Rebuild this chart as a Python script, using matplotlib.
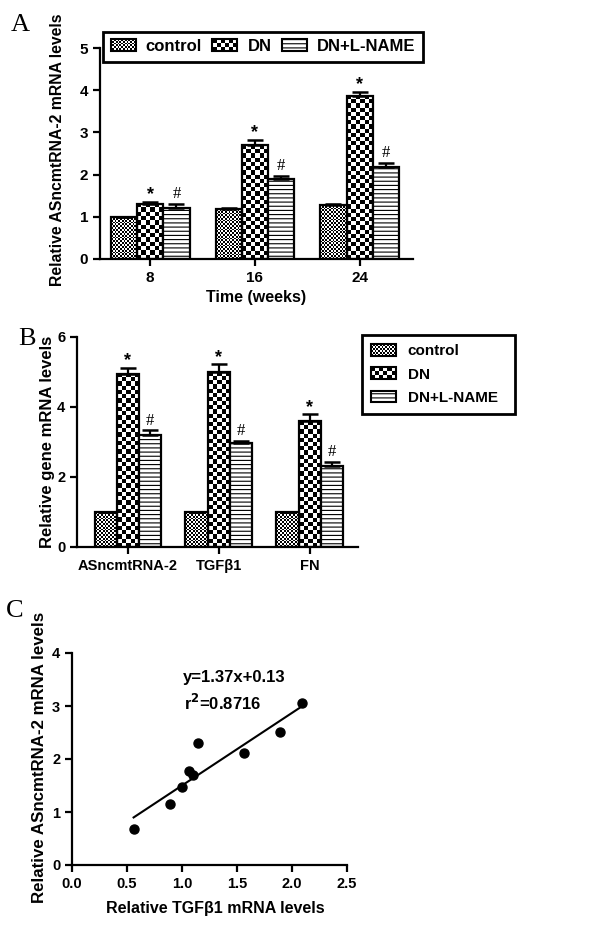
import numpy as np
import matplotlib
matplotlib.use('Agg')
from matplotlib import pyplot as plt
from matplotlib.patches import Rectangle, Patch
from matplotlib.legend_handler import HandlerBase

plt.rcParams['font.family'] = ['Liberation Sans', 'DejaVu Sans']
plt.rcParams['font.weight'] = 'bold'
plt.rcParams['axes.labelweight'] = 'bold'
plt.rcParams['hatch.linewidth'] = 0.8

# panel A data
weeks = ['8', '16', '24']
a_ctrl = [1.00, 1.18, 1.29]
a_ctrl_err = [0.00, 0.03, 0.02]
a_dn = [1.31, 2.69, 3.87]
a_dn_err = [0.05, 0.14, 0.09]
a_lname = [1.22, 1.90, 2.18]
a_lname_err = [0.08, 0.07, 0.09]

# panel B data
genes = ['ASncmtRNA-2', 'TGF\u03b21', 'FN']
b_ctrl = [1.0, 1.0, 1.0]
b_ctrl_err = [0.0, 0.0, 0.0]
b_dn = [4.95, 5.00, 3.60]
b_dn_err = [0.17, 0.22, 0.19]
b_lname = [3.20, 2.97, 2.32]
b_lname_err = [0.13, 0.06, 0.12]

# panel C data
tgf = [0.56, 0.89, 1.00, 1.06, 1.10, 1.15, 1.56, 1.89, 2.09]
asn = [0.67, 1.16, 1.48, 1.77, 1.69, 2.30, 2.11, 2.51, 3.06]
slope, intercept, r2 = 1.37, 0.13, 0.8716

groups = ['control', 'DN', 'DN+L-NAME']
SQ_CTRL = 1.8   # checker square size, pixels
SQ_DN = 4.2


def checker_fill(ax, bars, sq):
    for b in bars:
        x0, w, h = b.get_x(), b.get_width(), b.get_height()
        p0 = ax.transData.transform((x0, 0))
        p1 = ax.transData.transform((x0 + w, h))
        nx = max(1, int(round((p1[0] - p0[0]) / sq)))
        ny = max(1, int(round((p1[1] - p0[1]) / sq)))
        grid = np.add.outer(np.arange(ny), np.arange(nx)) % 2
        ax.imshow(grid, cmap='gray', vmin=0, vmax=1, extent=(x0, x0 + w, 0, h),
                  aspect='auto', interpolation='nearest', zorder=1)


class CheckerHandler(HandlerBase):
    def __init__(self, sq):
        super().__init__()
        self.sq = sq

    def create_artists(self, legend, orig_handle, xdescent, ydescent,
                       width, height, fontsize, trans):
        x0, y0 = -xdescent, -ydescent
        nx = max(1, int(round(width / self.sq)))
        ny = max(1, int(round(height / self.sq)))
        dx, dy = width / nx, height / ny
        arts = [Rectangle((x0, y0), width, height, fc='white', ec='none', transform=trans)]
        for i in range(nx):
            for j in range(ny):
                if (i + j) % 2 == 0:
                    arts.append(Rectangle((x0 + i * dx, y0 + j * dy), dx, dy,
                                          fc='black', ec='none', transform=trans))
        arts.append(Rectangle((x0, y0), width, height, fc='none', ec='black',
                              lw=1.5, transform=trans))
        return arts


def style_axes(ax, fs):
    for s in ['top', 'right']:
        ax.spines[s].set_visible(False)
    for s in ['left', 'bottom']:
        ax.spines[s].set_linewidth(1.6)
    ax.tick_params(width=1.6, length=5, labelsize=fs)
    for lab in ax.get_xticklabels() + ax.get_yticklabels():
        lab.set_fontweight('bold')


def bar_panel(ax, cats, vals, errs, width, ylim, yticks, star_off, hash_off):
    x = np.arange(len(cats))
    offs = [-width, 0, width]
    ax.set_xlim(-0.5, len(cats) - 0.5)
    ax.set_ylim(*ylim)
    all_bars = []
    for k, (v, e) in enumerate(zip(vals, errs)):
        if k == 2:
            bars = ax.bar(x + offs[k], v, width, facecolor='white', edgecolor='black',
                          hatch='----', linewidth=1.6, zorder=2)
        else:
            bars = ax.bar(x + offs[k], v, width, facecolor='none', edgecolor='black',
                          linewidth=1.6, zorder=2)
        ax.errorbar(x + offs[k], v, yerr=[np.zeros(len(v)), e], fmt='none', ecolor='black',
                    elinewidth=1.6, capsize=6, capthick=1.8, zorder=3)
        all_bars.append(bars)
    ax.set_xticks(x)
    ax.set_xticklabels(cats)
    ax.set_yticks(yticks)
    # significance marks
    for i in range(len(cats)):
        ax.annotate('*', (x[i], vals[1][i] + errs[1][i]), xytext=(0, star_off),
                    textcoords='offset points', ha='center', va='center', fontsize=13,
                    fontweight='bold', family='Liberation Sans')
        ax.annotate('#', (x[i] + width, vals[2][i] + errs[2][i]), xytext=(0, hash_off),
                    textcoords='offset points', ha='center', va='center', fontsize=12,
                    fontweight='normal', family='Liberation Serif')
    return all_bars


fig = plt.figure(figsize=(6.02, 9.25), dpi=100)
W, H = 602.0, 925.0


def add_ax(l, t, r, b):
    return fig.add_axes([l / W, 1 - b / H, (r - l) / W, (b - t) / H])


# ---------- panel A
axA = add_ax(100, 48, 413, 259)
barsA = bar_panel(axA, weeks, [a_ctrl, a_dn, a_lname], [a_ctrl_err, a_dn_err, a_lname_err],
                  0.25, (0, 5), range(0, 6), 5, 7)
axA.set_xlim(-0.48, 2.51)
style_axes(axA, 11)
axA.set_ylabel('Relative ASncmtRNA-2 mRNA levels', fontsize=11.3)
axA.yaxis.set_label_coords(-0.112, 0.52)
axA.set_xlabel('Time (weeks)', fontsize=11.5)
axA.xaxis.set_label_coords(0.5, -0.145)

# ---------- panel B
axB = add_ax(77, 337, 358, 547)
barsB = bar_panel(axB, genes, [b_ctrl, b_dn, b_lname], [b_ctrl_err, b_dn_err, b_lname_err],
                  0.245, (0, 6), [0, 2, 4, 6], 5, 7)
axB.set_xlim(-0.56, 2.53)
style_axes(axB, 10.5)
axB.set_ylabel('Relative gene mRNA levels', fontsize=12)
axB.yaxis.set_label_coords(-0.078, 0.5)

fig.canvas.draw()
for ax, bars in [(axA, barsA), (axB, barsB)]:
    xl, yl = ax.get_xlim(), ax.get_ylim()
    checker_fill(ax, bars[0], SQ_CTRL)
    checker_fill(ax, bars[1], SQ_DN)
    ax.set_xlim(xl)
    ax.set_ylim(yl)

# legends
h_ctrl = Patch(facecolor='white', edgecolor='black')
h_dn = Patch(facecolor='white', edgecolor='black')
h_ln = Patch(facecolor='white', edgecolor='black', hatch='----', linewidth=1.5)
hmap = {h_ctrl: CheckerHandler(1.3), h_dn: CheckerHandler(3.2)}

legA = fig.legend([h_ctrl, h_dn, h_ln], groups, ncol=3, loc='center left',
                  bbox_to_anchor=(103 / W, 1 - 63 / H, 320 / W, 33 / H), mode='expand',
                  borderaxespad=0, handler_map=hmap, fancybox=False, edgecolor='black',
                  prop={'weight': 'bold', 'size': 12}, handlelength=1.5, handleheight=0.75,
                  columnspacing=0.2, handletextpad=0.6, borderpad=0.45, framealpha=1)
legA.get_frame().set_linewidth(2)

h_ctrl2 = Patch(facecolor='white', edgecolor='black')
h_dn2 = Patch(facecolor='white', edgecolor='black')
hmap2 = {h_ctrl2: CheckerHandler(1.3), h_dn2: CheckerHandler(3.0)}
legB = fig.legend([h_ctrl2, h_dn2, h_ln], groups, ncol=1, loc='upper left',
                  bbox_to_anchor=(362 / W, 1 - 426 / H, 153 / W, 91 / H), mode='expand',
                  borderaxespad=0, handler_map=hmap2, fancybox=False, edgecolor='black',
                  prop={'weight': 'bold', 'size': 11}, handlelength=1.6, handleheight=0.8,
                  handletextpad=0.8, labelspacing=0.6, borderpad=0.6, framealpha=1)
legB.get_frame().set_linewidth(2)

# ---------- panel C
axC = add_ax(72, 653, 347, 865)
axC.plot(tgf, asn, 'o', color='black', markersize=6.5, zorder=3)
xs = np.array([min(tgf), max(tgf)])
axC.plot(xs, slope * xs + intercept, color='black', linewidth=1.5)
axC.set_xlim(0, 2.5)
axC.set_ylim(0, 4)
axC.set_xticks(np.arange(0, 2.51, 0.5))
axC.set_xticklabels(['%.1f' % v for v in np.arange(0, 2.51, 0.5)])
axC.set_yticks(range(0, 5))
style_axes(axC, 10.5)
axC.text(1.01, 3.53, 'y=%.2fx+%.2f' % (slope, intercept), fontsize=12, fontweight='bold',
         va='center')
axC.text(1.02, 3.06, 'r$^\\mathbf{2}$=%.4f' % r2, fontsize=12, fontweight='bold', va='center')
axC.set_ylabel('Relative ASncmtRNA-2 mRNA levels', fontsize=12.2)
axC.yaxis.set_label_coords(-0.091, 0.51)
axC.set_xlabel('Relative TGF\u03b21 mRNA levels', fontsize=11.5)
axC.xaxis.set_label_coords(0.52, -0.17)

# panel letters
for letter, x, y in [('A', 20, 25), ('B', 27, 339), ('C', 15, 611)]:
    fig.text(x / W, 1 - y / H, letter, family='Liberation Serif', fontsize=19,
             fontweight='normal', ha='center', va='center')

fig.savefig('out.png', dpi=100)
